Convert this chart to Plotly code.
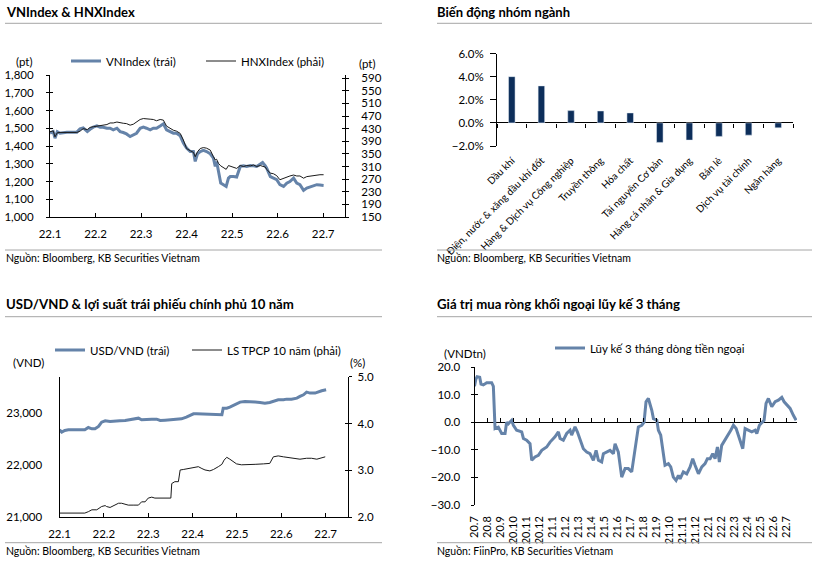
import plotly.graph_objects as go

W, H = 821, 561
def fx(p): return p / W
def fy(p): return 1 - p / H

# ---------------- data ----------------
# Panel 1: VNIndex & HNXIndex (x = months since 22.1)
p1_month = [0.00, 0.07, 0.11, 0.16, 0.22, 0.37, 0.59, 0.66, 0.73, 0.82,
            0.88, 0.95, 1.03, 1.10, 1.17, 1.25, 1.32, 1.39, 1.47, 1.54,
            1.61, 1.68, 1.76, 1.83, 1.90, 1.98, 2.05, 2.12, 2.20, 2.27,
            2.34, 2.42, 2.49, 2.56, 2.64, 2.71, 2.78, 2.86, 2.93, 3.00,
            3.08, 3.15, 3.19, 3.24, 3.30, 3.37, 3.44, 3.52, 3.59, 3.63,
            3.66, 3.70, 3.75, 3.81, 3.87, 3.92, 3.96, 4.03, 4.10, 4.18,
            4.25, 4.32, 4.40, 4.47, 4.54, 4.62, 4.67, 4.73, 4.76, 4.84,
            4.91, 4.98, 5.05, 5.13, 5.20, 5.27, 5.35, 5.42, 5.49, 5.57,
            5.64, 5.71, 5.79, 5.86, 5.93, 6.01]
vnindex = [1472, 1481, 1444, 1481, 1472, 1478, 1478, 1497, 1502, 1481,
           1494, 1506, 1513, 1506, 1506, 1500, 1500, 1491, 1500, 1481,
           1476, 1468, 1453, 1463, 1472, 1500, 1506, 1500, 1491, 1500,
           1500, 1513, 1525, 1491, 1481, 1472, 1472, 1457, 1416, 1388,
           1369, 1369, 1313, 1356, 1369, 1375, 1369, 1356, 1332, 1285,
           1313, 1266, 1191, 1182, 1172, 1219, 1228, 1228, 1225, 1285,
           1288, 1285, 1290, 1288, 1285, 1298, 1307, 1288, 1275, 1228,
           1219, 1210, 1182, 1172, 1191, 1200, 1219, 1191, 1182, 1150,
           1163, 1169, 1172, 1182, 1180, 1178]
hnxindex = [420, 423, 404, 417, 418, 418, 418, 422, 430, 427,
            434, 436, 438, 438, 441, 443, 448, 448, 451, 448,
            447, 446, 441, 444, 451, 459, 462, 462, 460, 459,
            455, 459, 457, 438, 430, 425, 422, 415, 394, 367,
            360, 355, 341, 357, 367, 370, 368, 362, 341, 331,
            333, 320, 312, 305, 301, 313, 311, 306, 304, 313,
            310, 313, 312, 315, 310, 313, 311, 308, 301, 289,
            287, 281, 268, 273, 278, 280, 283, 280, 280, 273,
            278, 280, 280, 283, 284, 284]
month_labels_22 = ["22.1", "22.2", "22.3", "22.4", "22.5", "22.6", "22.7"]
hnx_ticks = [150, 190, 230, 270, 310, 350, 390, 430, 470, 510, 550, 590]

# Panel 2: sector performance (%)
sectors = ["Dầu khí", "Điện, nước & xăng dầu khí đốt", "Hàng & Dịch vụ Công nghiệp",
           "Truyền thông", "Hóa chất", "Tài nguyên Cơ bản", "Hàng cá nhân & Gia dụng",
           "Bán lẻ", "Dịch vụ tài chính", "Ngân hàng"]
sector_change = [4.0, 3.2, 1.06, 1.03, 0.86, -1.69, -1.49, -1.17, -1.06, -0.43]

# Panel 3: USD/VND & 10Y government bond yield
usd_month = [0.00, 0.05, 0.12, 0.20, 0.31, 0.46, 0.57, 0.65, 0.73, 0.80,
             0.88, 0.95, 1.03, 1.14, 1.25, 1.36, 1.48, 1.59, 1.70, 1.78,
             1.85, 1.96, 2.08, 2.19, 2.27, 2.38, 2.49, 2.64, 2.75, 2.86,
             2.94, 3.02, 3.09, 3.21, 3.32, 3.47, 3.58, 3.66, 3.69, 3.77,
             3.84, 3.92, 3.99, 4.07, 4.18, 4.29, 4.41, 4.52, 4.63, 4.74,
             4.82, 4.93, 5.05, 5.12, 5.23, 5.35, 5.42, 5.50, 5.57, 5.65,
             5.76, 5.84, 5.91, 6.01]
usdvnd = [22679, 22635, 22667, 22679, 22679, 22679, 22679, 22724, 22699, 22699,
          22744, 22827, 22853, 22840, 22840, 22853, 22859, 22872, 22885, 22904,
          22872, 22885, 22885, 22885, 22859, 22865, 22872, 22885, 22891, 22923,
          22949, 22987, 22987, 22981, 22981, 22968, 22968, 22968, 23096, 23096,
          23115, 23147, 23179, 23212, 23224, 23212, 23212, 23205, 23192, 23205,
          23224, 23256, 23256, 23269, 23269, 23288, 23321, 23353, 23404, 23385,
          23385, 23417, 23430, 23449]
bond_month = [0.00, 0.16, 0.39, 0.57, 0.65, 0.73, 0.84, 0.91, 0.95, 1.03,
              1.06, 1.14, 1.25, 1.33, 1.40, 1.48, 1.55, 1.66, 1.78, 1.85,
              1.93, 2.00, 2.08, 2.15, 2.23, 2.34, 2.45, 2.51, 2.53, 2.60,
              2.68, 2.72, 2.79, 2.90, 3.02, 3.13, 3.21, 3.28, 3.39, 3.47,
              3.58, 3.66, 3.71, 3.77, 3.84, 3.92, 3.99, 4.10, 4.25, 4.41,
              4.60, 4.74, 4.82, 4.93, 5.05, 5.20, 5.31, 5.42, 5.57, 5.68,
              5.80, 5.91, 5.99]
bond10y = [2.09, 2.09, 2.09, 2.09, 2.12, 2.16, 2.16, 2.21, 2.23, 2.25,
           2.23, 2.21, 2.26, 2.30, 2.30, 2.28, 2.26, 2.26, 2.26, 2.33,
           2.33, 2.41, 2.43, 2.41, 2.41, 2.41, 2.41, 2.41, 2.72, 2.76,
           2.76, 3.01, 3.02, 3.04, 3.07, 3.08, 3.04, 3.01, 2.99, 3.02,
           3.08, 3.13, 3.22, 3.28, 3.24, 3.19, 3.14, 3.12, 3.12, 3.13,
           3.14, 3.15, 3.29, 3.31, 3.29, 3.27, 3.24, 3.24, 3.26, 3.26,
           3.24, 3.27, 3.29]

# Panel 4: 3-month cumulative foreign net buying (VND tn), x = months since 20.7
flow_month = [0.00, 0.10, 0.20, 0.40, 0.50, 0.68, 0.94, 1.32, 1.45, 1.58,
              1.83, 2.09, 2.35, 2.47, 2.60, 2.86, 2.99, 3.24, 3.63, 3.76,
              4.01, 4.27, 4.40, 4.65, 4.91, 5.17, 5.55, 5.81, 6.19, 6.45,
              6.58, 6.83, 7.09, 7.35, 7.47, 7.73, 7.91, 8.12, 8.37, 8.63,
              8.88, 9.14, 9.35, 9.53, 9.78, 9.91, 10.17, 10.42, 10.68, 10.81,
              11.06, 11.19, 11.32, 11.58, 11.83, 12.09, 12.22, 12.35, 12.48, 12.60,
              12.86, 13.04, 13.19, 13.37, 13.63, 13.76, 14.02, 14.14, 14.32, 14.48,
              14.65, 14.91, 15.09, 15.29, 15.50, 15.68, 15.81, 16.06, 16.32, 16.58,
              16.78, 16.96, 17.22, 17.48, 17.73, 17.91, 18.12, 18.32, 18.50, 18.68,
              18.83, 19.01, 19.27, 19.52, 19.71, 19.91, 20.12, 20.29, 20.48, 20.63,
              20.81, 21.06, 21.32, 21.58, 21.71, 21.91, 22.09, 22.27, 22.42, 22.60,
              22.86, 23.12, 23.37, 23.63, 23.81, 24.02, 24.27, 24.52, 24.73]
flow_value = [13.0, 15.5, 16.5, 16.3, 13.8, 13.5, 14.3, 14.3, 13.0, -2.3,
              -1.8, -4.1, -4.1, 0.0, -0.6, 0.7, -1.1, -2.9, -3.5, -5.9,
              -6.5, -7.8, -13.8, -12.6, -12.0, -10.2, -9.0, -7.2, -5.3, -3.5,
              -5.9, -6.5, -4.1, -2.9, -4.7, -1.7, -3.5, -6.5, -9.6, -10.8,
              -11.4, -13.8, -10.2, -13.8, -14.4, -11.4, -10.8, -10.2, -11.4, -7.8,
              -10.8, -16.2, -19.9, -16.8, -16.8, -18.0, -13.8, -9.6, -5.3, -1.7,
              -1.1, 0.0, 7.4, 8.6, 4.4, 1.3, 0.7, -2.9, -4.7, -10.2,
              -15.6, -15.0, -16.2, -19.9, -21.1, -19.3, -20.5, -18.0, -18.7, -16.2,
              -13.2, -15.6, -18.7, -16.2, -15.0, -13.2, -13.2, -11.4, -13.2, -9.0,
              -14.4, -8.4, -6.5, -4.7, -2.9, -1.1, -2.3, -4.7, -7.8, -9.6,
              -2.3, -2.9, -3.5, -2.9, -4.1, -1.1, 0.0, 0.7, 6.8, 8.6,
              5.6, 7.4, 8.0, 9.0, 7.4, 6.2, 5.0, 2.5, 0.7]
flow_labels = ["20.7", "20.8", "20.9", "20.10", "20.11", "20.12",
               "21.1", "21.2", "21.3", "21.4", "21.5", "21.6", "21.7", "21.8",
               "21.9", "21.10", "21.11", "21.12",
               "22.1", "22.2", "22.3", "22.4", "22.5", "22.6", "22.7"]

# ---------------- style ----------------
BLUE = "#6583A9"
NAVY = "#0D2E5A"
BLACK = "#1A1A1A"
GRAY = "#A6A6A6"
TICKFONT = "Liberation Sans Narrow, Lato, sans-serif"
TEXTFONT = "Lato, sans-serif"
tf = dict(family=TICKFONT, size=11.5, color="black")

fig = go.Figure()

def dummy(xa, ya):
    fig.add_trace(go.Scatter(x=[None], y=[None], mode="lines", xaxis=xa, yaxis=ya,
                             showlegend=False, hoverinfo="skip"))

# Panel 1
fig.add_trace(go.Scatter(x=p1_month, y=vnindex, name="VNIndex (trái)", mode="lines",
                         line=dict(color=BLUE, width=3), xaxis="x", yaxis="y", legend="legend"))
fig.add_trace(go.Scatter(x=p1_month, y=hnxindex, name="HNXIndex (phải)", mode="lines",
                         line=dict(color=BLACK, width=1), xaxis="x", yaxis="y2", legend="legend4"))
# Panel 2
fig.add_trace(go.Bar(x=sectors, y=sector_change, marker_color=NAVY, width=0.22,
                     xaxis="x3", yaxis="y3", showlegend=False))
fig.add_trace(go.Scatter(x=sectors, y=[None] * len(sectors), mode="lines",
                         xaxis="x4", yaxis="y3", showlegend=False, hoverinfo="skip"))
# Panel 3
fig.add_trace(go.Scatter(x=usd_month, y=usdvnd, name="USD/VND (trái)", mode="lines",
                         line=dict(color=BLUE, width=3), xaxis="x5", yaxis="y5", legend="legend2"))
fig.add_trace(go.Scatter(x=bond_month, y=bond10y, name="LS TPCP 10 năm (phải)", mode="lines",
                         line=dict(color=BLACK, width=1), xaxis="x5", yaxis="y6", legend="legend5"))
# Panel 4
fig.add_trace(go.Scatter(x=flow_month, y=flow_value, name="Lũy kế 3 tháng dòng tiền ngoại",
                         mode="lines", line=dict(color=BLUE, width=3),
                         xaxis="x7", yaxis="y7", legend="legend3"))
dummy("x8", "y7")
# overlay axes used only to draw the inner half of "cross" tick marks
dummy("x", "y9")
dummy("x", "y10")
dummy("x5", "y11")
dummy("x7", "y12")

common = dict(showgrid=False, zeroline=False, linecolor="black", linewidth=1,
              tickcolor="black", tickfont=tf, automargin=False)
inner = dict(showgrid=False, zeroline=False, showline=False, showticklabels=False,
             ticks="inside", ticklen=3, tickcolor="black", automargin=False)

d1x = [fx(50), fx(345)]; d1y = [fy(217), fy(75)]
d2x = [fx(497), fx(793)]; d2y = [fy(146), fy(53.5)]
d3x = [fx(59.5), fx(348.3)]; d3y = [fy(517.3), fy(376.7)]
d4x = [fx(474.5), fx(797)]; d4y = [fy(505), fy(367)]

zero2 = d2y[0] + (0 - (-2)) / 8 * (d2y[1] - d2y[0])
zero4 = d4y[0] + (0 - (-30)) / 50 * (d4y[1] - d4y[0])

lf = dict(family=TICKFONT, size=11.5)
def leg(px, py):
    return dict(orientation="h", x=fx(px), y=fy(py), xanchor="left", yanchor="middle",
                font=lf, bgcolor="rgba(0,0,0,0)")

fig.update_layout(
    width=W, height=H, margin=dict(l=0, r=0, t=0, b=0, autoexpand=False),
    paper_bgcolor="white", plot_bgcolor="white",
    font=dict(family=TEXTFONT, size=11, color="black"),
    xaxis=dict(domain=d1x, anchor="y", range=[0, 6.48], tickmode="array",
               tickvals=list(range(7)), ticktext=month_labels_22, ticks="inside",
               ticklen=4, showline=True, ticklabelstandoff=6, **common),
    yaxis=dict(domain=d1y, anchor="x", range=[1000, 1800], dtick=100, tickformat=",",
               ticks="outside", ticklen=3, showline=True, ticklabelstandoff=10, **common),
    yaxis2=dict(overlaying="y", side="right", anchor="x", range=[150, 600],
                tickmode="array", tickvals=hnx_ticks, ticks="outside",
                ticklen=3, showline=True, ticklabelstandoff=10, **common),
    yaxis9=dict(overlaying="y", side="left", anchor="x", range=[1000, 1800], dtick=100, **inner),
    yaxis10=dict(overlaying="y", side="right", anchor="x", range=[150, 600],
                 tickmode="array", tickvals=hnx_ticks, **inner),
    xaxis3=dict(domain=d2x, anchor="y3", type="category", categoryorder="array",
                categoryarray=sectors, range=[-0.5, 9.5], ticks="", showline=False,
                tickangle=-45, ticklabelstandoff=6, showgrid=False, zeroline=False,
                automargin=False,
                tickfont=dict(family=TICKFONT, size=10, color="black")),
    xaxis4=dict(overlaying="x3", anchor="free", position=zero2, type="category",
                categoryorder="array", categoryarray=sectors, range=[-0.5, 9.5],
                tickson="boundaries", ticks="outside", ticklen=4, tickcolor="black",
                showticklabels=False, showline=False, showgrid=False, zeroline=False,
                automargin=False),
    yaxis3=dict(domain=d2y, anchor="x3", range=[-2, 6], dtick=2, tickformat=".1f",
                ticksuffix="%", ticks="outside", ticklen=6, showline=True,
                ticklabelstandoff=4, showgrid=False, zeroline=True, zerolinecolor="black",
                zerolinewidth=1, linecolor="black", tickcolor="black", tickfont=tf,
                automargin=False),
    xaxis5=dict(domain=d3x, anchor="y5", range=[0, 6.51], tickmode="array",
                tickvals=list(range(7)), ticktext=month_labels_22, ticks="inside",
                ticklen=4, showline=True, ticklabelstandoff=6, **common),
    yaxis5=dict(domain=d3y, anchor="x5", range=[21000, 23700], tickmode="array",
                tickvals=[21000, 22000, 23000], tickformat=",", ticks="",
                showline=True, ticklabelstandoff=14, **common),
    yaxis6=dict(overlaying="y5", side="right", anchor="x5", range=[2, 5], dtick=1,
                tickformat=".1f", ticks="outside", ticklen=3, showline=True,
                ticklabelstandoff=3, **common),
    yaxis11=dict(overlaying="y5", side="right", anchor="x5", range=[2, 5], dtick=1, **inner),
    xaxis7=dict(domain=d4x, anchor="y7", range=[0, 24.8], tickmode="array",
                tickvals=list(range(25)), ticktext=flow_labels, tickangle=-90,
                ticks="", showline=False, ticklabelstandoff=8, showgrid=False, zeroline=False,
                automargin=False,
                tickfont=dict(family=TICKFONT, size=11, color="black")),
    xaxis8=dict(overlaying="x7", anchor="free", position=zero4, range=[0, 24.8],
                tickmode="array", tickvals=list(range(25)), ticks="inside", ticklen=4,
                tickcolor="black", showticklabels=False, showline=False,
                showgrid=False, zeroline=False, automargin=False),
    yaxis7=dict(domain=d4y, anchor="x7", range=[-30, 20], dtick=10, tickformat=".1f",
                ticks="outside", ticklen=3, showline=True, ticklabelstandoff=8,
                showgrid=False, zeroline=True, zerolinecolor="black", zerolinewidth=1,
                linecolor="black", tickcolor="black", tickfont=tf, automargin=False),
    yaxis12=dict(overlaying="y7", side="left", anchor="x7", range=[-30, 20], dtick=10, **inner),
    legend=leg(66, 61),
    legend4=leg(201, 61),
    legend2=leg(50, 350),
    legend5=leg(187, 350),
    legend3=leg(550, 348),
)

# titles, source notes, unit labels
def text(px, py, s, size=11, bold=False, xanchor="left"):
    fig.add_annotation(x=fx(px), y=fy(py), xref="paper", yref="paper", text=s,
                       showarrow=False, xanchor=xanchor, yanchor="middle",
                       font=dict(family=TEXTFONT, size=size, color="black",
                                 weight="bold" if bold else "normal"))

def hline(x0, x1, py):
    fig.add_shape(type="line", xref="paper", yref="paper", x0=fx(x0), x1=fx(x1),
                  y0=fy(py), y1=fy(py), line=dict(color=GRAY, width=1))

text(4, 12, "VNIndex & HNXIndex", 13, True)
text(435, 12, "Biến động nhóm ngành", 13, True)
text(4, 304, "USD/VND & lợi suất trái phiếu chính phủ 10 năm", 13.2, True)
text(435, 304, "Giá trị mua ròng khối ngoại lũy kế 3 tháng", 13.2, True)
for (a, b, y) in [(5, 382, 23.3), (437, 812, 23.3), (5, 382, 316.7), (437, 812, 316.7),
                  (5, 382, 250), (437, 812, 250), (5, 382, 542.7), (437, 812, 542.7)]:
    hline(a, b, y)
text(4, 258, "Nguồn: Bloomberg, KB Securities Vietnam", 10.5)
text(435, 258, "Nguồn: Bloomberg, KB Securities Vietnam", 10.5)
text(4, 551, "Nguồn: Bloomberg, KB Securities Vietnam", 10.5)
text(435, 551, "Nguồn: FiinPro, KB Securities Vietnam", 10.5)

def unit(px, py, s):
    fig.add_annotation(x=fx(px), y=fy(py), xref="paper", yref="paper", text=s,
                       showarrow=False, xanchor="center", yanchor="middle",
                       font=dict(family=TICKFONT, size=11.5, color="black"))
unit(24, 62, "(pt)")
unit(367, 63, "(pt)")
unit(29, 362, "(VND)")
unit(357, 362, "(%)")
unit(465, 353, "(VNDtn)")

fig.write_html("out.html")
